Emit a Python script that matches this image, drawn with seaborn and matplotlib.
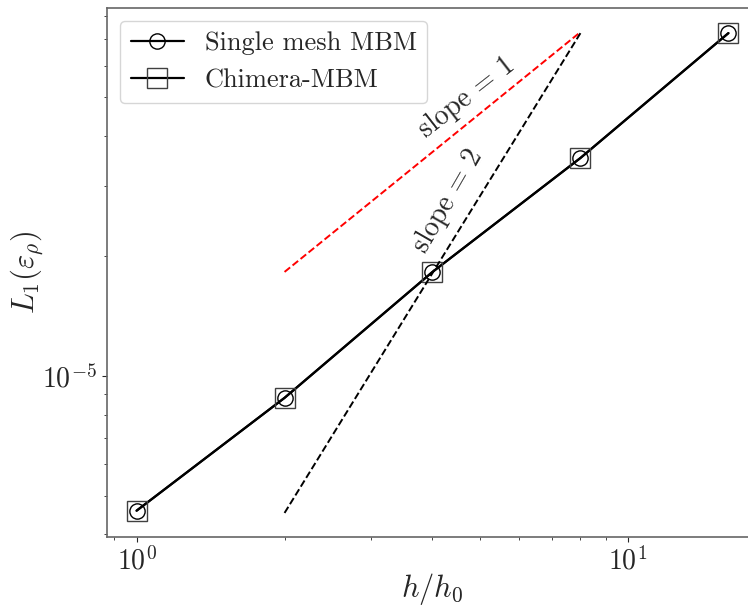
import matplotlib
matplotlib.use("Agg")
import matplotlib.pyplot as plt
import seaborn as sns
import pandas as pd

# mesh ratio and L1 density error
h_ratio = [1, 2, 4, 8, 16]
err_single = [4.59e-6, 8.81e-6, 1.824e-5, 3.524e-5, 7.25e-5]
err_chimera = [4.59e-6, 8.81e-6, 1.824e-5, 3.524e-5, 7.25e-5]

# reference slope lines (end points)
slope1_x = [2, 8]
slope1_y = [1.824e-5, 7.296e-5]
slope2_x = [2, 8]
slope2_y = [4.53e-6, 7.25e-5]

sns.set_style("ticks")
plt.rcParams['font.family'] = 'serif'
plt.rcParams['font.serif'] = ['cmr10']
plt.rcParams['mathtext.fontset'] = 'cm'
plt.rcParams['axes.formatter.use_mathtext'] = True
plt.rcParams['axes.unicode_minus'] = False

df = pd.DataFrame({'h': h_ratio, 'single': err_single, 'chimera': err_chimera})

fig = plt.figure(figsize=(7.48, 6.06), dpi=100)
ax = fig.add_axes([107 / 748, 69 / 606, 651 / 748, 529 / 606])

sns.lineplot(data=df, x='h', y='single', ax=ax, color='black', lw=1.6,
             marker='o', markersize=11, markerfacecolor='none',
             markeredgecolor='black', markeredgewidth=1.0, label='Single mesh MBM')
sns.lineplot(data=df, x='h', y='chimera', ax=ax, color='black', lw=1.6,
             marker='s', markersize=14.5, markerfacecolor='none',
             markeredgecolor='0.25', markeredgewidth=1.0, label='Chimera-MBM')

sns.lineplot(x=slope1_x, y=slope1_y, ax=ax, color='red', lw=1.4, linestyle='--')
sns.lineplot(x=slope2_x, y=slope2_y, ax=ax, color='black', lw=1.4, linestyle='--')

ax.set_xscale('log')
ax.set_yscale('log')

ax.text(4.7, 5.0e-5, 'slope = 1', rotation=38, fontsize=20,
        ha='center', va='center', rotation_mode='anchor')
ax.text(4.3, 2.75e-5, 'slope = 2', rotation=60, fontsize=20,
        ha='center', va='center', rotation_mode='anchor')

ax.set_xlabel('$h/h_0$', fontsize=22, labelpad=-3)
ax.set_ylabel(r'$L_1(\varepsilon_\rho)$', fontsize=22, labelpad=-2)
ax.tick_params(labelsize=20)
for sp in ax.spines.values():
    sp.set_color('0.4')
    sp.set_linewidth(1.2)

ax.legend(loc='upper left', fontsize=19, handlelength=2.0)

fig.savefig('out.png', dpi=100)
